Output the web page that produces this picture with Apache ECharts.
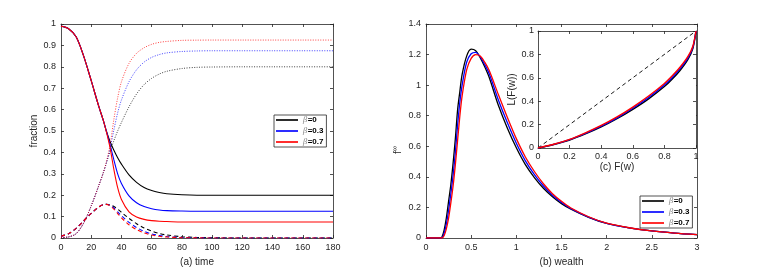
<!DOCTYPE html>
<html>
<head>
<meta charset="utf-8">
<script src="https://cdn.jsdelivr.net/npm/echarts@6/dist/echarts.min.js"></script>
<style>html,body{margin:0;padding:0;background:#fff;}#c{width:757px;height:274px;}</style>
</head>
<body>
<div id="c"></div>
<script>
// ---------- (a) time panel ----------
const T = [0,5,10,15,20,25,28,30,32.5,35,37.5,40,45,50,55,60,65,70,80,90,100,120,140,160,180];
const S0 = [0.99,0.978,0.94,0.85,0.735,0.615,0.55,0.50,0.45,0.41,0.375,0.345,0.295,0.26,0.236,0.222,0.213,0.207,0.202,0.2,0.2,0.2,0.2,0.2,0.2];
const S3 = [0.99,0.978,0.94,0.85,0.735,0.615,0.55,0.50,0.435,0.365,0.30,0.255,0.197,0.165,0.147,0.137,0.131,0.128,0.126,0.125,0.125,0.125,0.125,0.125,0.125];
const S7 = [0.99,0.978,0.94,0.85,0.735,0.615,0.55,0.497,0.42,0.32,0.235,0.18,0.122,0.098,0.087,0.081,0.078,0.077,0.075,0.075,0.075,0.075,0.075,0.075,0.075];
const I0 = [0.008,0.02,0.045,0.08,0.115,0.145,0.156,0.158,0.155,0.147,0.135,0.12,0.092,0.067,0.047,0.032,0.021,0.014,0.006,0.0025,0.001,0,0,0,0];
const I3 = [0.008,0.02,0.045,0.08,0.115,0.145,0.156,0.158,0.152,0.14,0.122,0.104,0.073,0.049,0.031,0.019,0.012,0.007,0.0025,0.001,0,0,0,0,0];
const I7 = [0.008,0.02,0.045,0.08,0.115,0.145,0.156,0.157,0.15,0.135,0.114,0.094,0.062,0.039,0.024,0.014,0.008,0.0045,0.0015,0.0005,0,0,0,0,0];
const R0 = [0.002,0.005,0.02,0.07,0.15,0.245,0.305,0.35,0.405,0.455,0.50,0.54,0.613,0.673,0.717,0.746,0.766,0.779,0.792,0.7975,0.799,0.8,0.8,0.8,0.8];
const R3 = [0.002,0.005,0.02,0.07,0.15,0.245,0.305,0.35,0.42,0.505,0.585,0.645,0.73,0.786,0.822,0.844,0.857,0.865,0.8715,0.874,0.875,0.875,0.875,0.875,0.875];
const R7 = [0.002,0.005,0.02,0.07,0.15,0.245,0.305,0.355,0.435,0.555,0.655,0.73,0.816,0.863,0.889,0.905,0.914,0.9185,0.9235,0.9245,0.925,0.925,0.925,0.925,0.925];

// ---------- (b) wealth panel ----------
const W = [0,0.1,0.15,0.175,0.2,0.225,0.25,0.275,0.3,0.325,0.35,0.375,0.4,0.45,0.5,0.55,0.6,0.65,0.7,0.8,0.9,1.0,1.1,1.2,1.3,1.4,1.5,1.6,1.8,2.0,2.25,2.5,2.75,3.0];
const F0 = [0,0,0,0.005,0.05,0.13,0.24,0.35,0.49,0.65,0.84,0.96,1.07,1.19,1.235,1.225,1.18,1.12,1.05,0.87,0.72,0.59,0.48,0.395,0.325,0.27,0.225,0.19,0.135,0.095,0.066,0.046,0.032,0.022];
const F3 = [0,0,0,0,0.03,0.09,0.18,0.29,0.41,0.56,0.74,0.89,1.0,1.15,1.205,1.215,1.185,1.135,1.075,0.905,0.755,0.62,0.505,0.415,0.34,0.28,0.232,0.194,0.137,0.096,0.066,0.046,0.032,0.022];
const F7 = [0,0,0,0,0.015,0.06,0.13,0.23,0.34,0.48,0.64,0.80,0.93,1.10,1.175,1.20,1.19,1.15,1.095,0.94,0.79,0.65,0.53,0.435,0.355,0.29,0.24,0.198,0.139,0.097,0.067,0.046,0.032,0.022];

// ---------- (c) Lorenz inset ----------
const FW = [0,0.1,0.2,0.3,0.4,0.5,0.6,0.7,0.8,0.85,0.9,0.95,0.98,1.0];
const L0 = [0,0.03,0.068,0.12,0.18,0.25,0.33,0.42,0.525,0.59,0.665,0.76,0.85,1.0];
const L3 = [0,0.031,0.071,0.125,0.186,0.258,0.34,0.432,0.538,0.603,0.678,0.772,0.86,1.0];
const L7 = [0,0.032,0.074,0.13,0.193,0.266,0.35,0.444,0.552,0.617,0.692,0.785,0.87,1.0];
const DIAG_X = [0,1];
const DIAG_Y = [0,1];

const NAMES = ['β=0','β=0.3','β=0.7'];
const COLORS = ['#000000','#0000ff','#ff0000'];

const FONT = '"Liberation Sans", Arial, Helvetica, sans-serif';
const INK = '#262626';
const pairs = (xs, ys) => xs.map((x, i) => [x, ys[i]]);

function axis(o) {
  return Object.assign({
    type: 'value',
    axisLine: { show: true, onZero: false, lineStyle: { color: INK, width: 0.8 } },
    axisTick: { show: true, inside: true, length: 3, lineStyle: { color: INK, width: 0.8 } },
    splitLine: { show: false },
    axisLabel: { show: true, color: INK, fontSize: 9, fontFamily: FONT, margin: 5 },
    nameTextStyle: { color: INK, fontSize: 10, fontFamily: FONT },
    nameLocation: 'middle'
  }, o);
}
function hidden(o) {
  const a = axis(o);
  a.axisLabel = { show: false };
  return a;
}

const series = [];
const Ss = [S0, S3, S7], Is = [I0, I3, I7], Rs = [R0, R3, R7];
for (let k = 0; k < 3; k++) {
  series.push({ name: NAMES[k], type: 'line', xAxisIndex: 0, yAxisIndex: 0, data: pairs(T, Ss[k]),
    symbol: 'none', smooth: 0.3, lineStyle: { color: COLORS[k], width: 1.1 }, itemStyle: { color: COLORS[k] } });
  series.push({ name: 'R ' + NAMES[k], type: 'line', xAxisIndex: 0, yAxisIndex: 0, data: pairs(T, Rs[k]),
    symbol: 'none', smooth: 0.3, lineStyle: { color: COLORS[k], width: 1, type: [1, 1.5], opacity: 0.75 } });
  series.push({ name: 'I ' + NAMES[k], type: 'line', xAxisIndex: 0, yAxisIndex: 0, data: pairs(T, Is[k]),
    symbol: 'none', smooth: 0.3, lineStyle: { color: COLORS[k], width: 1.1, type: [4, 3] } });
}
const Fs = [F0, F3, F7];
for (let k = 0; k < 3; k++) {
  series.push({ name: NAMES[k], type: 'line', xAxisIndex: 2, yAxisIndex: 2, data: pairs(W, Fs[k]),
    symbol: 'none', smooth: 0.3, lineStyle: { color: COLORS[k], width: 1.3 }, itemStyle: { color: COLORS[k] } });
}
series.push({ name: 'diag', type: 'line', xAxisIndex: 4, yAxisIndex: 4, data: pairs(DIAG_X, DIAG_Y), z: 6,
  symbol: 'none', lineStyle: { color: '#000', width: 0.9, type: [4, 3] } });
const Ls = [L0, L3, L7];
for (let k = 0; k < 3; k++) {
  series.push({ name: 'L ' + NAMES[k], type: 'line', xAxisIndex: 4, yAxisIndex: 4, data: pairs(FW, Ls[k]), z: 6,
    symbol: 'none', smooth: 0.3, lineStyle: { color: COLORS[k], width: 1.4 } });
}

function legend(left, top) {
  return {
    data: NAMES.map((n, k) => ({ name: n, icon: 'path://M0,0H40V3H0Z', itemStyle: { color: COLORS[k] } })),
    orient: 'vertical', left: left, top: top,
    itemWidth: 22, itemHeight: 8, itemGap: 3, padding: [1, 3, 1, 2],
    borderColor: INK, borderWidth: 0.8, backgroundColor: '#fff', borderRadius: 0,
    selectedMode: false, z: 10,
    formatter: n => '{g|β}{t|' + n.slice(1) + '}',
    textStyle: {
      fontSize: 8, fontFamily: FONT,
      rich: {
        g: { fontStyle: 'italic', color: '#8a8a8a', fontSize: 8, fontFamily: '"DejaVu Serif", serif' },
        t: { fontWeight: 'bold', color: '#000', fontSize: 8, fontFamily: FONT }
      }
    }
  };
}

const option = {
  animation: false,
  backgroundColor: '#fff',
  grid: [
    { left: 61, top: 24, width: 272, height: 214 },
    { left: 426, top: 24, width: 271, height: 214 },
    { left: 538, top: 31, width: 158, height: 117, show: true, backgroundColor: '#fff', borderWidth: 0, z: 3 }
  ],
  xAxis: [
    axis({ gridIndex: 0, min: 0, max: 180, interval: 20, name: '(a) time', nameGap: 17 }),
    hidden({ gridIndex: 0, min: 0, max: 180, interval: 20, position: 'top' }),
    axis({ gridIndex: 1, min: 0, max: 3, interval: 0.5, name: '(b) wealth', nameGap: 17 }),
    hidden({ gridIndex: 1, min: 0, max: 3, interval: 0.5, position: 'top' }),
    axis({ gridIndex: 2, min: 0, max: 1, interval: 0.2, name: '(c) F(w)', nameGap: 14, z: 5,
      axisLabel: { color: INK, fontSize: 9, fontFamily: FONT, margin: 4 } }),
    hidden({ gridIndex: 2, min: 0, max: 1, interval: 0.2, position: 'top', z: 5 })
  ],
  yAxis: [
    axis({ gridIndex: 0, min: 0, max: 1, interval: 0.1, name: 'fraction', nameGap: 18 }),
    hidden({ gridIndex: 0, min: 0, max: 1, interval: 0.1, position: 'right' }),
    axis({ gridIndex: 1, min: 0, max: 1.4, interval: 0.2 }),
    hidden({ gridIndex: 1, min: 0, max: 1.4, interval: 0.2, position: 'right' }),
    axis({ gridIndex: 2, min: 0, max: 1, interval: 0.2, name: 'L(F(w))', nameGap: 17, z: 5,
      axisLabel: { color: INK, fontSize: 9, fontFamily: FONT, margin: 4 } }),
    hidden({ gridIndex: 2, min: 0, max: 1, interval: 0.2, position: 'right', z: 5 })
  ],
  legend: [legend(274, 115), legend(640, 196)],
  graphic: [
    { type: 'text', x: 398, y: 150, rotation: Math.PI / 2, z: 10,
      style: { text: 'f{s|∞}', fill: INK, font: '10px ' + FONT, align: 'center', verticalAlign: 'middle',
        rich: { s: { fontSize: 7, verticalAlign: 'top', padding: [0, 0, 5, 0] } } } }
  ],
  series: series
};

const chart = echarts.init(document.getElementById('c'), null, { renderer: 'canvas' });
chart.setOption(option);
</script>
</body>
</html>
